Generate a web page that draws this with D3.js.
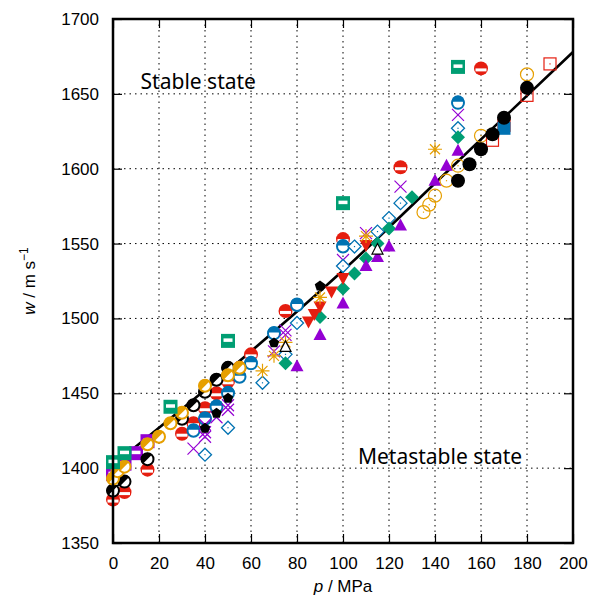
<!DOCTYPE html>
<html>
<head>
    <script src="https://d3js.org/d3.v7.min.js"></script>
    <style>
        body { margin: 0; background: #fff; }
        .tick text { font-family: "Liberation Sans", Arial, sans-serif; font-size: 17px; }
    </style>
</head>
<body>
    <div id="chart"></div>
    <script>
        // axis ticks
        var xTicks = [0, 20, 40, 60, 80, 100, 120, 140, 160, 180, 200];
        var yTicks = [1350, 1400, 1450, 1500, 1550, 1600, 1650, 1700];

        // fitted line
        var lineP = [0, 50, 100, 150, 200];
        var lineW = [1402, 1465, 1532, 1605, 1678];

        // data sets, p in MPa, w in m/s
        var purpleSqP = [0, 5, 10, 15];
        var purpleSqW = [1396, 1403, 1410, 1418];
        var redHalfP = [0, 5, 15, 30, 35, 40, 45, 50, 55, 60, 75, 100, 125, 160];
        var redHalfW = [1379, 1384, 1399, 1423, 1430, 1440, 1450, 1458, 1467, 1476, 1505, 1553, 1601, 1667];
        var blueHalfP = [35, 40, 45, 50, 55, 60, 70, 80, 100, 150];
        var blueHalfW = [1425, 1433, 1441, 1450, 1461, 1470, 1490, 1509, 1548, 1644];
        var blackHalfP = [0, 1, 5, 15, 30, 35, 40, 45, 50];
        var blackHalfW = [1385, 1392, 1391, 1406, 1433, 1442, 1451, 1459, 1467];
        var orangeHalfP = [0, 2, 5, 15, 20, 25, 30, 40, 50, 55];
        var orangeHalfW = [1393, 1398, 1401, 1416, 1421, 1430, 1437, 1455, 1462, 1467];
        var greenSqP = [0, 5, 25, 50, 100, 150];
        var greenSqW = [1404, 1410, 1441, 1485, 1577, 1668];
        var crossP = [35, 40, 40, 40, 45, 50, 50, 70, 75, 75, 100, 110, 125, 150];
        var crossW = [1413, 1421, 1424, 1429, 1434, 1439, 1442, 1478, 1489, 1492, 1539, 1557, 1588, 1636];
        var diamondP = [40, 50, 65, 75, 80, 100, 105, 115, 120, 125, 150];
        var diamondW = [1409, 1427, 1457, 1476, 1497, 1535, 1548, 1558, 1567, 1577, 1627];
        var greenDiaP = [75, 90, 100, 105, 110, 115, 120, 130, 150];
        var greenDiaW = [1470, 1501, 1520, 1530, 1540, 1550, 1560, 1581, 1621];
        var triUpP = [80, 90, 100, 110, 115, 120, 125, 140, 145, 150];
        var triUpW = [1468, 1489, 1510, 1535, 1541, 1548, 1562, 1592, 1602, 1612];
        var triDownP = [85, 87.5, 90, 95, 100, 110];
        var triDownW = [1498, 1503, 1508, 1518, 1527, 1549];
        var starP = [65, 70, 75, 90, 110, 140];
        var starW = [1465, 1475, 1484, 1514, 1555, 1613];
        var openCircP = [135, 137.5, 140, 145, 150, 160, 180];
        var openCircW = [1571, 1576, 1582, 1592, 1602, 1622, 1663];
        var openSqP = [165, 170, 180, 190];
        var openSqW = [1619, 1629, 1649, 1670];
        var blueSqP = [170];
        var blueSqW = [1627];
        var blackDotP = [150, 155, 160, 165, 170, 180];
        var blackDotW = [1592, 1603, 1613, 1623, 1634, 1654];
        var pentP = [40, 45, 50, 70, 90];
        var pentW = [1427, 1437, 1447, 1484, 1522];
        var openTriP = [75, 115];
        var openTriW = [1481, 1546];

        var margin = { top: 19, right: 19, bottom: 57, left: 113 },
            width = 592 - margin.left - margin.right,
            height = 600 - margin.top - margin.bottom;

        var svg = d3.select("#chart")
            .append("svg")
            .attr("width", 592)
            .attr("height", 600)
            .append("g")
            .attr("transform", "translate(" + margin.left + "," + margin.top + ")");

        var x = d3.scaleLinear().domain([0, 200]).range([0, width]);
        var y = d3.scaleLinear().domain([1350, 1700]).range([height, 0]);

        // grid
        svg.append("g").selectAll("line")
            .data(xTicks.slice(1, -1))
            .join("line")
            .attr("x1", d => x(d)).attr("x2", d => x(d))
            .attr("y1", 0).attr("y2", height)
            .attr("stroke", "#000").attr("stroke-width", 1)
            .attr("stroke-dasharray", "1.5,4");
        svg.append("g").selectAll("line")
            .data(yTicks.slice(1, -1))
            .join("line")
            .attr("y1", d => y(d)).attr("y2", d => y(d))
            .attr("x1", 0).attr("x2", width)
            .attr("stroke", "#000").attr("stroke-width", 1)
            .attr("stroke-dasharray", "1.5,4");

        // axes with inward ticks on every side
        svg.append("g")
            .attr("transform", "translate(0," + height + ")")
            .call(d3.axisBottom(x).tickValues(xTicks).tickSize(-9).tickPadding(14).tickFormat(d3.format("d")));
        svg.append("g")
            .call(d3.axisLeft(y).tickValues(yTicks).tickSize(-9).tickPadding(14).tickFormat(d3.format("d")));
        svg.append("g")
            .call(d3.axisTop(x).tickValues(xTicks).tickSize(-9).tickFormat(""));
        svg.append("g")
            .attr("transform", "translate(" + width + ",0)")
            .call(d3.axisRight(y).tickValues(yTicks).tickSize(-9).tickFormat(""));
        svg.selectAll(".domain").remove();
        svg.selectAll(".tick line").attr("stroke", "#000").attr("stroke-width", 1.2);
        svg.selectAll(".tick text").attr("fill", "#000");

        // line
        var pts = lineP.map(function (p, i) { return [p, lineW[i]]; });
        svg.append("path")
            .datum(pts)
            .attr("fill", "none")
            .attr("stroke", "#000")
            .attr("stroke-width", 2.6)
            .attr("d", d3.line()
                .x(d => x(d[0]))
                .y(d => y(d[1]))
                .curve(d3.curveMonotoneX));

        var purple = "#9400d3", green = "#009e73", blue = "#0072b2",
            orange = "#e69f00", red = "#e51e10";

        function marker(g, type, c) {
            var r = 6.5;
            if (type == "halfSq") {
                g.append("rect").attr("x", -7).attr("y", -7).attr("width", 14).attr("height", 14).attr("fill", c);
                g.append("rect").attr("x", -4.5).attr("y", -2.5).attr("width", 9).attr("height", 3.5).attr("fill", "#fff");
            } else if (type == "redHalf") {
                g.append("circle").attr("r", r + 0.5).attr("fill", c);
                g.append("rect").attr("x", -5.5).attr("y", 0).attr("width", 11).attr("height", 3).attr("fill", "#fff");
            } else if (type == "topHalf") {
                g.append("circle").attr("r", r - 0.5).attr("fill", "#fff").attr("stroke", c).attr("stroke-width", 2);
                g.append("path").attr("d", "M" + (-r) + ",-1 A" + r + "," + r + " 0 0 1 " + r + ",-1 Z").attr("fill", c);
            } else if (type == "sideHalf") {
                g.append("circle").attr("r", r - 0.5).attr("fill", "#fff").attr("stroke", c).attr("stroke-width", 2);
                var a = r * Math.SQRT1_2;
                g.append("path").attr("d", "M" + a + "," + (-a) + " A" + r + "," + r + " 0 0 0 " + (-a) + "," + a + " Z").attr("fill", c);
            } else if (type == "cross") {
                g.append("path").attr("d", "M-6,-6L6,6M-6,6L6,-6").attr("stroke", c).attr("stroke-width", 1.2);
            } else if (type == "diamond") {
                g.append("path").attr("d", "M0,-6.5L6.5,0L0,6.5L-6.5,0Z").attr("fill", "#fff").attr("stroke", c).attr("stroke-width", 1.3);
                g.append("rect").attr("x", -0.6).attr("y", -0.6).attr("width", 1.2).attr("height", 1.2).attr("fill", c);
            } else if (type == "fDiamond") {
                g.append("path").attr("d", "M0,-7L7,0L0,7L-7,0Z").attr("fill", c);
            } else if (type == "triUp") {
                g.append("path").attr("d", "M0,-7L6.5,5L-6.5,5Z").attr("fill", c);
            } else if (type == "triDown") {
                g.append("path").attr("d", "M0,7L6.5,-5L-6.5,-5Z").attr("fill", c);
            } else if (type == "openTri") {
                g.append("path").attr("d", "M0,-6L5.5,4.5L-5.5,4.5Z").attr("fill", "#fff").attr("stroke", c).attr("stroke-width", 1.2);
            } else if (type == "star") {
                g.append("path").attr("d", "M-7,0L7,0M0,-7L0,7M-5,-5L5,5M-5,5L5,-5").attr("stroke", c).attr("stroke-width", 1.2);
            } else if (type == "openCirc") {
                g.append("circle").attr("r", r).attr("fill", "none").attr("stroke", c).attr("stroke-width", 1.2);
                g.append("rect").attr("x", -0.6).attr("y", -0.6).attr("width", 1.2).attr("height", 1.2).attr("fill", c);
            } else if (type == "openSq") {
                g.append("rect").attr("x", -6).attr("y", -6).attr("width", 12).attr("height", 12).attr("fill", "none").attr("stroke", c).attr("stroke-width", 1.2);
                g.append("rect").attr("x", -0.6).attr("y", -0.6).attr("width", 1.2).attr("height", 1.2).attr("fill", c);
            } else if (type == "fSq") {
                g.append("rect").attr("x", -6.5).attr("y", -6.5).attr("width", 13).attr("height", 13).attr("fill", c);
            } else if (type == "dot") {
                g.append("circle").attr("r", 7).attr("fill", c);
            } else if (type == "pent") {
                var s = d3.range(5).map(function (i) {
                    var t = -Math.PI / 2 + i * 2 * Math.PI / 5;
                    return [5.5 * Math.cos(t), 5.5 * Math.sin(t) + 0.5];
                });
                g.append("path").attr("d", "M" + s.join("L") + "Z").attr("fill", c);
            }
        }

        var series = [
            [purpleSqP, purpleSqW, "halfSq", purple],
            [redHalfP, redHalfW, "redHalf", red],
            [blueHalfP, blueHalfW, "topHalf", blue],
            [blackHalfP, blackHalfW, "sideHalf", "#000"],
            [orangeHalfP, orangeHalfW, "sideHalf", orange],
            [greenSqP, greenSqW, "halfSq", green],
            [crossP, crossW, "cross", purple],
            [diamondP, diamondW, "diamond", blue],
            [greenDiaP, greenDiaW, "fDiamond", green],
            [triUpP, triUpW, "triUp", purple],
            [triDownP, triDownW, "triDown", red],
            [starP, starW, "star", orange],
            [openCircP, openCircW, "openCirc", orange],
            [openSqP, openSqW, "openSq", red],
            [blueSqP, blueSqW, "fSq", blue],
            [blackDotP, blackDotW, "dot", "#000"],
            [pentP, pentW, "pent", "#000"],
            [openTriP, openTriW, "openTri", "#000"]
        ];

        series.forEach(function (s) {
            s[0].forEach(function (p, i) {
                var g = svg.append("g")
                    .attr("transform", "translate(" + x(p) + "," + y(s[1][i]) + ")");
                marker(g, s[2], s[3]);
            });
        });

        // frame
        svg.append("rect")
            .attr("width", width).attr("height", height)
            .attr("fill", "none").attr("stroke", "#000").attr("stroke-width", 2.5);

        // labels
        svg.append("text")
            .attr("x", x(12)).attr("y", y(1653))
            .style("font-family", "'Noto Sans', sans-serif").style("font-size", "21px")
            .text("Stable state");
        svg.append("text")
            .attr("x", x(106.5)).attr("y", y(1403))
            .style("font-family", "'Noto Sans', sans-serif").style("font-size", "21px")
            .text("Metastable state");

        var xl = svg.append("text")
            .attr("x", width / 2).attr("y", height + 49)
            .attr("text-anchor", "middle")
            .style("font-family", "'Liberation Sans', Arial, sans-serif").style("font-size", "17px");
        xl.append("tspan").style("font-style", "italic").text("p");
        xl.append("tspan").text(" / MPa");

        var yl = svg.append("text")
            .attr("transform", "translate(" + (-78) + "," + (height / 2) + ") rotate(-90)")
            .attr("text-anchor", "middle")
            .style("font-family", "'Liberation Sans', Arial, sans-serif").style("font-size", "17px");
        yl.append("tspan").style("font-style", "italic").text("w");
        yl.append("tspan").text(" / m s");
        yl.append("tspan").attr("dy", -7).style("font-size", "12px").text("−1");
    </script>
</body>
</html>
